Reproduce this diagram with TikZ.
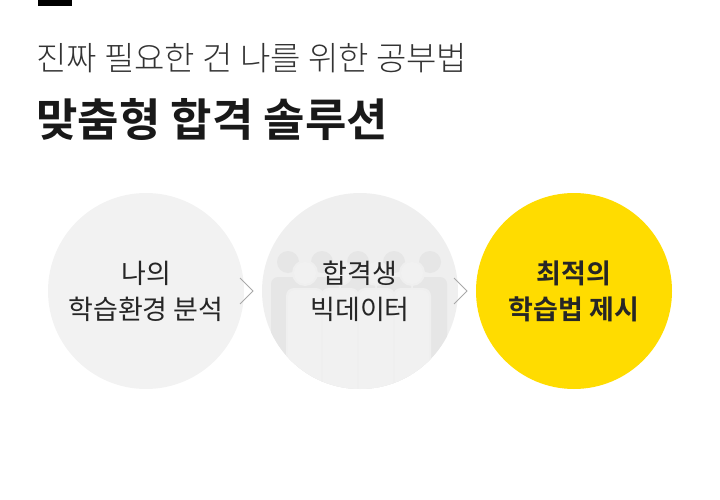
\documentclass[tikz,border=0pt]{standalone}
\usepackage{fontspec}
\setmainfont{Noto Sans CJK KR}[BoldFont={Noto Sans CJK KR Bold}]
\newfontfamily\krlight{Noto Sans CJK KR Light}
\definecolor{cgray}{HTML}{F2F2F2}
\definecolor{cgray2}{HTML}{EFEFEF}
\definecolor{sil}{HTML}{E6E6E6}
\definecolor{ylw}{HTML}{FFDC00}
\definecolor{chev}{HTML}{A8A8A8}
\tikzset{x=1pt,y=-1pt,
  circ/.style={circle,minimum size=196pt,inner sep=0pt},
  lbl/.style={align=center,font=\fontsize{27}{36}\selectfont,text=black!85},
  chv/.style={draw=chev,line width=1pt}}
\begin{document}
\begin{tikzpicture}
\useasboundingbox (0,0) rectangle (720,500);
\fill[black] (38,0) rectangle (72,6);
\node[anchor=west,inner sep=0pt,text=black!80] (t1) at (36,58) {\krlight\fontsize{33}{36}\selectfont 진짜 필요한 건 나를 위한 공부법};
\node[anchor=west,inner sep=0pt,text=black!90] (t2) at (36,120) {\bfseries\fontsize{45}{48}\selectfont 맞춤형 합격 솔루션};
\node[circ,fill=cgray] (c1) at (146,291) {};
\node[circ,fill=cgray2] (c2) at (360,291) {};
\node[circ,fill=ylw] (c3) at (574,291) {};
\begin{scope}
\clip (360,291) circle (98);
\foreach \x in {288,322,358,394,430}{
  \fill[sil] (\x,262) circle (11);
  \fill[sil,rounded corners=7] (\x-17,277) rectangle (\x+17,400);}
\foreach \x in {305,340,376,412}{
  \fill[cgray2] (\x,273) circle (13);
  \fill[cgray2,rounded corners=8] (\x-19,288) rectangle (\x+19,400);
  \fill[sil!55] (\x,273) circle (11);
  \fill[sil!55,rounded corners=7] (\x-17,290) rectangle (\x+17,400);}
\end{scope}
\node[lbl] (l1) at (c1) {나의\\학습환경 분석};
\node[lbl] (l2) at (c2) {합격생\\빅데이터};
\node[lbl,font=\bfseries\fontsize{27}{36}\selectfont] (l3) at (c3) {최적의\\학습법 제시};
\coordinate (a1) at (240,278); \coordinate (a2) at (253,291); \coordinate (a3) at (240,304);
\draw[chv] (a1) -- (a2) -- (a3);
\coordinate (b1) at (454,278); \coordinate (b2) at (467,291); \coordinate (b3) at (454,304);
\draw[chv] (b1) -- (b2) -- (b3);
\end{tikzpicture}
\end{document}
